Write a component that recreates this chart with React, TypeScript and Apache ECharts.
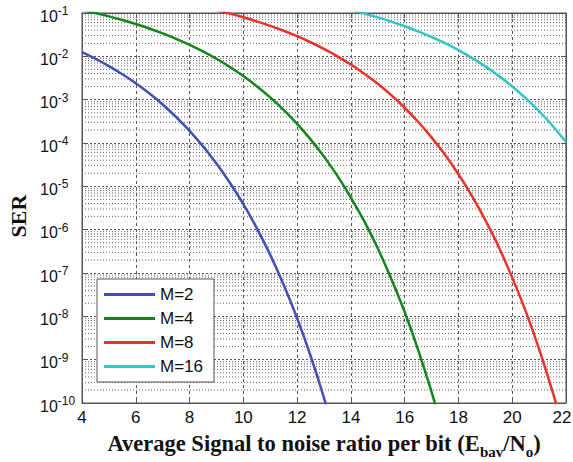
import React, { useEffect, useRef } from "react";
import * as echarts from "echarts";

// Eb/N0 (dB) sample points and SER values
const snrM2 = [4, 4.5, 5, 5.5, 6, 6.5, 7, 7.5, 8, 8.5, 9, 9.5, 10, 10.5, 11, 11.5, 12, 12.5, 13, 13.5];
const serM2 = [
  1.25e-2, 8.79e-3, 5.95e-3, 3.86e-3, 2.39e-3, 1.40e-3, 7.72e-4, 3.98e-4, 1.91e-4, 8.39e-5,
  3.36e-5, 1.21e-5, 3.87e-6, 1.09e-6, 2.62e-7, 5.34e-8, 9.0e-9, 1.23e-9, 1.32e-10, 1.12e-11,
];

const snrM4 = [4, 4.5, 5, 5.5, 6, 6.5, 7, 7.5, 8, 8.5, 9, 9.5, 10, 10.5, 11, 11.5, 12, 12.5, 13, 13.5, 14, 14.5, 15, 15.5, 16, 16.5, 17, 17.5];
const serM4 = [
  0.117, 0.0999, 0.0837, 0.069, 0.0557, 0.044, 0.0339, 0.0254, 0.01847, 0.01298,
  0.008775, 0.00568, 0.003505, 0.002049, 1.128e-3, 5.81e-4, 2.77e-4, 1.215e-4, 4.85e-5, 1.743e-5,
  5.52e-6, 1.551e-6, 3.71e-7, 7.36e-8, 1.257e-8, 1.69e-9, 1.8e-10, 1.51e-11,
];

const snrM8 = [9, 9.5, 10, 10.5, 11, 11.5, 12, 12.5, 13, 13.5, 14, 14.5, 15, 15.5, 16, 16.5, 17, 17.5, 18, 18.5, 19, 19.5, 20, 20.5, 21, 21.5, 22];
const serM8 = [
  0.1154, 0.0967, 0.0796, 0.0642, 0.05064, 0.039, 0.02914, 0.02114, 0.01483, 0.01,
  0.006456, 0.003972, 0.002322, 1.27e-3, 6.51e-4, 3.09e-4, 1.349e-4, 5.36e-5, 1.9e-5, 6.02e-6,
  1.659e-6, 3.98e-7, 7.82e-8, 1.32e-8, 1.754e-9, 1.84e-10, 1.5e-11,
];

const snrM16 = [14, 14.5, 15, 15.5, 16, 16.5, 17, 17.5, 18, 18.5, 19, 19.5, 20, 20.5, 21, 21.5, 22];
const serM16 = [
  0.1163, 0.0968, 0.07915, 0.0634, 0.04955, 0.0378, 0.02796, 0.0201, 0.01387, 0.00922,
  0.005854, 0.00354, 2.02e-3, 1.081e-3, 5.41e-4, 2.5e-4, 1.052e-4,
];

const seriesNames = ["M=2", "M=4", "M=8", "M=16"];
const seriesColors = ["#4050b5", "#14851a", "#e8322a", "#36c3c7"];

const xMin = 4;
const xMax = 22;
const xStep = 2;
const yMinExp = -10;
const yMaxExp = -1;
const minorMantissas = [2, 3, 4, 5, 6, 7, 8, 9];

const sans = "'Liberation Sans', Arial, Helvetica, sans-serif";
const serif = "'Liberation Serif', 'Times New Roman', Times, serif";

export default function App() {
  const ref = useRef<HTMLDivElement>(null);

  useEffect(() => {
    if (!ref.current) return;
    const chart = echarts.init(ref.current, null, { renderer: "svg" });

    const minorValues: number[][] = [];
    for (let e = yMinExp; e < yMaxExp; e++) {
      for (const m of minorMantissas) minorValues.push([xMin, m * Math.pow(10, e)]);
    }

    const pairs = (xs: number[], ys: number[]) => xs.map((x, i) => [x, ys[i]]);
    const allData = [
      pairs(snrM2, serM2),
      pairs(snrM4, serM4),
      pairs(snrM8, serM8),
      pairs(snrM16, serM16),
    ];

    const yLog = {
      type: "log" as const,
      logBase: 10,
      min: Math.pow(10, yMinExp),
      max: Math.pow(10, yMaxExp),
    };

    const option: any = {
      animation: false,
      backgroundColor: "#ffffff",
      grid: {
        left: 82,
        right: 7,
        top: 13,
        bottom: 59,
        containLabel: false,
        outerBoundsMode: "none",
        show: true,
        borderColor: "#555",
        borderWidth: 1,
        backgroundColor: "transparent",
      },
      legend: {
        data: seriesNames,
        orient: "vertical",
        left: 97,
        top: 279,
        backgroundColor: "#ffffff",
        borderColor: "#555",
        borderWidth: 1,
        borderRadius: 0,
        padding: [7, 11, 7, 7],
        icon: "rect",
        itemWidth: 51,
        itemHeight: 3,
        itemGap: 7,
        textStyle: { fontSize: 17, lineHeight: 17, fontFamily: sans, color: "#111" },
      },
      xAxis: [
        {
          type: "value",
          min: xMin,
          max: xMax,
          interval: xStep,
          axisLine: { show: true, lineStyle: { color: "#555" } },
          axisTick: { show: true, inside: true, length: 5, lineStyle: { color: "#555" } },
          axisLabel: {
            color: "#111",
            fontSize: 17,
            fontFamily: sans,
            margin: 6,
            formatter: (v: number) => (v === xMax ? `{r|${v}}` : `${v}`),
            rich: { r: { fontSize: 17, fontFamily: sans, color: "#111", padding: [0, 8, 0, 0] } },
          },
          splitLine: { show: true, lineStyle: { color: "#555", type: [3, 3], width: 1 } },
          name: "Average Signal to noise ratio per bit (E{s|bav}/N{s|o})",
          nameLocation: "middle",
          nameGap: 28,
          nameTextStyle: {
            fontFamily: serif,
            fontWeight: "bold",
            fontSize: 22.5,
            color: "#111",
            lineHeight: 24,
            rich: {
              s: {
                fontFamily: serif,
                fontWeight: "bold",
                fontSize: 15,
                lineHeight: 15,
                color: "#111",
                padding: [13, 0, 0, 0],
                verticalAlign: "top",
              },
            },
          },
        },
        {
          type: "value",
          position: "top",
          min: xMin,
          max: xMax,
          interval: xStep,
          axisLine: { show: true, lineStyle: { color: "#555" } },
          axisTick: { show: true, inside: true, length: 5, lineStyle: { color: "#555" } },
          axisLabel: { show: false },
          splitLine: { show: false },
        },
      ],
      yAxis: [
        {
          ...yLog,
          axisLine: { show: true, lineStyle: { color: "#555" } },
          axisTick: { show: true, inside: true, length: 5, lineStyle: { color: "#555" } },
          axisLabel: {
            align: "left",
            margin: 42,
            color: "#111",
            formatter: (v: number) => `{b|10}{s|${Math.round(Math.log10(v))}}`,
            rich: {
              b: { fontSize: 16, fontFamily: sans, color: "#111", lineHeight: 16, padding: [3, 0, 0, 0], verticalAlign: "top" },
              s: { fontSize: 12, fontFamily: sans, color: "#111", lineHeight: 12, verticalAlign: "top" },
            },
          },
          splitLine: { show: true, lineStyle: { color: "#555", type: [2, 2], width: 1 } },
          name: "SER",
          nameLocation: "middle",
          nameGap: 53,
          nameTextStyle: {
            fontFamily: serif,
            fontWeight: "bold",
            fontSize: 22,
            color: "#111",
            padding: [0, 16, 0, 0],
          },
        },
        {
          ...yLog,
          position: "right",
          axisLine: { show: true, lineStyle: { color: "#555" } },
          axisTick: { show: true, inside: true, length: 5, lineStyle: { color: "#555" } },
          axisLabel: { show: false },
          splitLine: { show: false },
        },
      ],
      series: [
        {
          type: "custom",
          name: "_minorgrid",
          silent: true,
          xAxisIndex: 0,
          yAxisIndex: 0,
          z: 1,
          data: minorValues,
          encode: { x: 0, y: 1 },
          renderItem: (params: any, api: any) => {
            const v = api.value(1);
            const p1 = api.coord([xMin, v]);
            const p2 = api.coord([xMax, v]);
            return {
              type: "line",
              shape: { x1: p1[0], y1: p1[1], x2: p2[0], y2: p2[1] },
              style: { stroke: "#666", lineWidth: 1, lineDash: [1, 2] },
              silent: true,
            };
          },
        },
        ...seriesNames.map((name, i) => ({
          type: "line",
          name,
          data: allData[i],
          xAxisIndex: 0,
          yAxisIndex: 0,
          showSymbol: false,
          symbol: "none",
          smooth: 0.3,
          clip: true,
          color: seriesColors[i],
          lineStyle: { color: seriesColors[i], width: 2.5 },
          z: 3,
        })),
      ],
    };

    chart.setOption(option);
    return () => chart.dispose();
  }, []);

  return (
    <div
      ref={ref}
      style={{ position: "fixed", left: 0, top: 0, width: 573, height: 462, background: "#fff" }}
    />
  );
}
